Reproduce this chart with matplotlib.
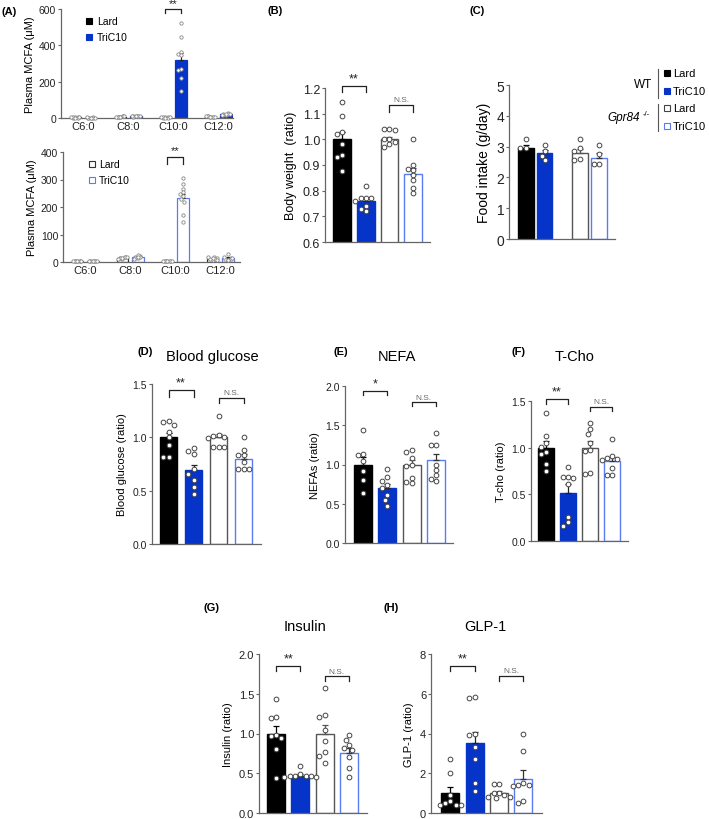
import matplotlib
matplotlib.use("Agg")
import matplotlib.pyplot as plt
import numpy as np

plt.rcParams['font.family'] = ['Liberation Sans', 'DejaVu Sans']

W, H = 709, 820

BLACK = '#000000'
BLUE = '#0633c8'
LBLUE = '#5a7cf2'
GREY = '#555555'
SPINE = '#666666'

# ---------------- data ----------------
mcfa_cats = ['C6:0', 'C8:0', 'C10:0', 'C12:0']
# panel A top (WT)
wt_lard_mean = [3, 8, 3, 8]
wt_tric_mean = [2, 10, 320, 20]
wt_lard_sem = [1, 2, 1, 2]
wt_tric_sem = [1, 2, 40, 3]
wt_lard_pts = [[3, 2, 4, 3, 2, 3, 4, 2], [6, 8, 10, 7, 9, 8, 11, 6], [3, 2, 4, 3, 2, 4, 3, 2], [6, 9, 8, 11, 7, 9, 6, 8]]
wt_tric_pts = [[2, 1, 3, 2, 2, 3, 1, 2], [9, 12, 10, 8, 13, 11, 9, 10], [521, 448, 362, 353, 345, 270, 265, 219, 146], [17, 22, 25, 19, 21, 18, 23, 20]]
# panel A bottom (Gpr84-/-)
ko_lard_mean = [3, 15, 3, 12]
ko_tric_mean = [3, 17, 232, 14]
ko_lard_sem = [1, 2, 1, 2]
ko_tric_sem = [1, 2, 17, 3]
ko_lard_pts = [[3, 2, 4, 3, 2, 3, 4, 3], [12, 16, 20, 14, 18, 10, 17, 13], [3, 4, 2, 3, 4, 2, 3, 4], [8, 12, 18, 14, 10, 20, 9, 13]]
ko_tric_pts = [[3, 4, 2, 5, 3, 2, 4, 3], [14, 18, 22, 16, 20, 12, 25, 17], [304, 283, 265, 253, 247, 239, 229, 220, 171, 147], [8, 12, 28, 16, 10, 20, 14, 6]]

groups = ['WT Lard', 'WT TriC10', 'Gpr84-/- Lard', 'Gpr84-/- TriC10']

bw_mean = [1.0, 0.76, 1.0, 0.865]
bw_sem = [0.03, 0.012, 0.01, 0.025]
bw_pts = [[1.145, 1.09, 1.03, 1.02, 0.98, 0.94, 0.93, 0.878],
          [0.82, 0.77, 0.77, 0.77, 0.76, 0.74, 0.73, 0.72],
          [1.04, 1.04, 1.035, 1.0, 1.0, 0.99, 0.98, 0.97],
          [1.0, 0.9, 0.885, 0.88, 0.86, 0.84, 0.81, 0.79]]

food_mean = [2.95, 2.8, 2.8, 2.63]
food_sem = [0.1, 0.1, 0.13, 0.15]
food_pts = [[3.25, 2.95, 2.95],
            [3.05, 2.85, 2.7, 2.55],
            [3.25, 2.95, 2.85, 2.6, 2.55],
            [3.05, 2.75, 2.45, 2.45]]

glu_mean = [1.0, 0.69, 1.0, 0.80]
glu_sem = [0.045, 0.055, 0.03, 0.04]
glu_pts = [[1.15, 1.14, 1.12, 1.05, 1.0, 0.93, 0.82, 0.82],
           [0.9, 0.87, 0.84, 0.70, 0.66, 0.60, 0.53, 0.47],
           [1.2, 1.02, 1.01, 1.0, 0.99, 0.91, 0.91, 0.91],
           [1.0, 0.88, 0.83, 0.83, 0.77, 0.70, 0.70, 0.70]]

nefa_mean = [1.0, 0.70, 1.0, 1.06]
nefa_sem = [0.09, 0.055, 0.055, 0.08]
nefa_pts = [[1.44, 1.13, 1.12, 1.05, 0.92, 0.80, 0.64],
            [0.94, 0.84, 0.79, 0.74, 0.70, 0.61, 0.55, 0.47],
            [1.19, 1.16, 1.08, 1.0, 0.98, 0.83, 0.78, 0.76],
            [1.40, 1.25, 1.25, 1.0, 0.93, 0.86, 0.82, 0.79]]

tcho_mean = [1.0, 0.51, 1.0, 0.86]
tcho_sem = [0.07, 0.1, 0.07, 0.04]
tcho_pts = [[1.37, 1.13, 1.05, 1.01, 0.95, 0.93, 0.82, 0.75],
            [0.79, 0.69, 0.69, 0.67, 0.61, 0.26, 0.20, 0.16],
            [1.26, 1.20, 1.15, 1.05, 0.97, 0.96, 0.73, 0.72],
            [1.09, 0.91, 0.89, 0.88, 0.87, 0.78, 0.71, 0.71]]

ins_mean = [1.0, 0.47, 1.0, 0.75]
ins_sem = [0.1, 0.015, 0.11, 0.07]
ins_pts = [[1.43, 1.21, 1.19, 0.98, 0.97, 0.94, 0.80, 0.44],
           [0.59, 0.49, 0.47, 0.46, 0.46, 0.46, 0.45, 0.45],
           [1.57, 1.23, 1.21, 1.05, 0.90, 0.77, 0.72, 0.63],
           [0.98, 0.92, 0.85, 0.82, 0.79, 0.70, 0.57, 0.45]]

glp_mean = [1.0, 3.5, 1.0, 1.7]
glp_sem = [0.3, 0.6, 0.1, 0.45]
glp_pts = [[2.7, 2.0, 0.9, 0.6, 0.5, 0.4, 0.4, 0.4],
           [5.85, 5.8, 4.0, 3.9, 3.3, 2.7, 1.5, 1.1],
           [1.45, 1.45, 1.0, 1.0, 0.9, 0.8, 0.8, 0.75],
           [4.0, 3.1, 1.5, 1.4, 1.4, 1.35, 0.6, 0.5]]

fig = plt.figure(figsize=(W / 100, H / 100), dpi=100)


def box(l, t, r, b):
    return fig.add_axes([l / W, 1 - b / H, (r - l) / W, (b - t) / H])


def swarm(vals, px_per_unit, dx, diam=5.0, kmax=7):
    dy = diam / px_per_unit
    placed = []
    xs = []
    cand = [0] + [s * k for k in range(1, kmax + 1) for s in (-1, 1)]
    for n, v in enumerate(vals):
        x = None
        for c in cand:
            xc = c * dx * 0.5
            if all(((xc - px) / dx) ** 2 + ((v - py) / dy) ** 2 >= 1 for px, py in placed):
                x = xc
                break
        if x is None:
            x = cand[n % len(cand)] * dx * 0.5
        placed.append((x, v))
        xs.append(x)
    return np.array(xs)


def style(ax, ylim, yticks, fmt, fs):
    ax.set_ylim(*ylim)
    ax.set_yticks(yticks)
    ax.set_yticklabels([fmt.format(v) for v in yticks], fontsize=fs, color='#222')
    for s in ['top', 'right']:
        ax.spines[s].set_visible(False)
    for s in ['left', 'bottom']:
        ax.spines[s].set_color(SPINE)
        ax.spines[s].set_linewidth(0.9)
    ax.tick_params(axis='y', length=2.5, width=0.8, color=SPINE, pad=1)
    ax.tick_params(axis='x', length=0)
    ax.set_facecolor('none')


def bracket(ax, x1, x2, y, drop, label, fs, color='#222'):
    ax.plot([x1, x1, x2, x2], [y - drop, y, y, y - drop], color='#222', lw=0.9, clip_on=False)
    ax.text((x1 + x2) / 2, y + drop * 0.3, label, ha='center', va='bottom',
            fontsize=fs, color=color, clip_on=False)


faces = [BLACK, BLUE, 'white', 'white']
edges = [BLACK, BLUE, GREY, LBLUE]
ecols = [BLACK, '#222', GREY, '#333']


def ratio_panel(box_px, pos, xlim, width, means, sems, pts, ylim, yticks, fmt, ylabel,
                fs_tick, fs_lab, brk):
    ax = box(*box_px)
    style(ax, ylim, yticks, fmt, fs_tick)
    ax.set_xlim(*xlim)
    ax.set_xticks([])
    ppu = (box_px[3] - box_px[1]) / (ylim[1] - ylim[0])
    for i in range(4):
        ax.bar(pos[i], means[i], width, color=faces[i], edgecolor=edges[i], lw=1.0, zorder=2)
        ax.errorbar(pos[i], means[i], yerr=[[0], [sems[i]]], color=ecols[i], capsize=2,
                    elinewidth=0.9, capthick=0.9, zorder=3)
        xs = swarm(pts[i], ppu, 0.22)
        ax.plot(pos[i] + xs, pts[i], 'o', ms=3.4, mfc='white', mec='#444', mew=0.7,
                zorder=4, clip_on=False)
    ax.set_ylabel(ylabel, fontsize=fs_lab, labelpad=4)
    (y1, d1, l1), (y2, d2) = brk
    bracket(ax, pos[0], pos[1], y1, d1, l1, 9)
    bracket(ax, pos[2], pos[3], y2, d2, 'N.S.', 6, '#666')
    return ax


# ---------------- panel A ----------------
def mcfa_panel(box_px, xlim, lard_m, lard_s, lard_p, tric_m, tric_s, tric_p, ylim, yticks,
               lard_style, tric_style, brk_y, brk_d):
    ax = box(*box_px)
    style(ax, ylim, yticks, '{:d}', 7.5)
    ax.set_xlim(*xlim)
    x = np.arange(len(mcfa_cats))
    ax.set_xticks(x)
    ax.set_xticklabels(mcfa_cats, fontsize=8, color='#222')
    ax.tick_params(axis='x', pad=2)
    ppu = (box_px[3] - box_px[1]) / (ylim[1] - ylim[0])
    off, w = 0.17, 0.26
    for (m, s, p, st, sgn) in [(lard_m, lard_s, lard_p, lard_style, -1),
                               (tric_m, tric_s, tric_p, tric_style, 1)]:
        ax.bar(x + sgn * off, m, w, color=st[0], edgecolor=st[1], lw=0.9, zorder=2)
        for i in range(len(x)):
            ax.errorbar(x[i] + sgn * off, m[i], yerr=[[0], [s[i]]], color='#222', capsize=1.5,
                        elinewidth=0.8, capthick=0.8, zorder=3)
            xs = swarm(p[i], ppu, 0.06, 3.0, kmax=3)
            ax.plot(x[i] + sgn * off + xs, p[i], 'o', ms=2.4, mfc='white', mec='#888',
                    mew=0.6, zorder=4, clip_on=False)
    ax.set_ylabel('Plasma MCFA (μM)', fontsize=8, labelpad=3)
    bracket(ax, 2 - off, 2 + off, brk_y, brk_d, '**', 8)
    hl = plt.Line2D([], [], marker='s', ls='none', ms=5, mfc=lard_style[0], mec=lard_style[1], mew=0.8)
    ht = plt.Line2D([], [], marker='s', ls='none', ms=5, mfc=tric_style[0], mec=tric_style[1], mew=0.8)
    ax.legend([hl, ht], ['Lard', 'TriC10'], loc='upper left', bbox_to_anchor=(0.08, 1.02),
              frameon=False, fontsize=7.5, handletextpad=0.2, labelspacing=0.6, handlelength=1)
    return ax


mcfa_panel((61, 10, 233, 119), (-0.49, 3.33), wt_lard_mean, wt_lard_sem, wt_lard_pts,
           wt_tric_mean, wt_tric_sem, wt_tric_pts, (0, 600), [0, 200, 400, 600],
           (BLACK, BLACK), (BLUE, BLUE), 600, 22)
mcfa_panel((63, 153, 240, 263), (-0.49, 3.44), ko_lard_mean, ko_lard_sem, ko_lard_pts,
           ko_tric_mean, ko_tric_sem, ko_tric_pts, (0, 400), [0, 100, 200, 300, 400],
           ('white', '#333'), ('white', LBLUE), 382, 24)

# ---------------- panel B ----------------
pos4 = [0, 1, 2, 3]
axb = ratio_panel((325, 89, 430, 243), pos4, (-0.72, 3.71), 0.74, bw_mean, bw_sem, bw_pts,
                  (0.6, 1.2), [0.6, 0.7, 0.8, 0.9, 1.0, 1.1, 1.2], '{:.1f}', 'Body weight  (ratio)',
                  9, 9, ((1.208, 0.024, '**'), (1.132, 0.026)))

# ---------------- panel C ----------------
axc = box(509, 86, 615, 240)
style(axc, (0, 5), [0, 1, 2, 3, 4, 5], '{:d}', 10)
posc = [0, 1, 2.9, 3.95]
axc.set_xlim(-0.92, 4.81)
axc.set_xticks([])
ppu_c = 154 / 5
for i in range(4):
    axc.bar(posc[i], food_mean[i], 0.86, color=faces[i], edgecolor=edges[i], lw=1.0, zorder=2)
    axc.errorbar(posc[i], food_mean[i], yerr=[[0], [food_sem[i]]], color=ecols[i], capsize=2,
                 elinewidth=0.9, capthick=0.9, zorder=3)
    xs = swarm(food_pts[i], ppu_c, 0.3)
    axc.plot(posc[i] + xs, food_pts[i], 'o', ms=3.4, mfc='white', mec='#444', mew=0.7, zorder=4)
axc.set_ylabel('Food intake (g/day)', fontsize=10, labelpad=4)

# ---------------- row 2 & 3 ----------------
ratio_panel((152, 385, 261, 545), pos4, (-0.66, 3.7), 0.7, glu_mean, glu_sem, glu_pts,
            (0, 1.5), [0.0, 0.5, 1.0, 1.5], '{:.1f}', 'Blood glucose (ratio)', 7.5, 8,
            ((1.44, 0.06, '**'), (1.37, 0.05)))
ratio_panel((345, 387, 453, 544), pos4, (-0.74, 3.7), 0.74, nefa_mean, nefa_sem, nefa_pts,
            (0, 2.0), [0.0, 0.5, 1.0, 1.5, 2.0], '{:.1f}', 'NEFAs (ratio)', 7.5, 8,
            ((1.94, 0.05, '*'), (1.79, 0.05)))
ratio_panel((531, 402, 628, 542), pos4, (-0.68, 3.73), 0.73, tcho_mean, tcho_sem, tcho_pts,
            (0, 1.5), [0.0, 0.5, 1.0, 1.5], '{:.1f}', 'T-cho (ratio)', 7.5, 8,
            ((1.52, 0.05, '**'), (1.44, 0.05)))
ratio_panel((259, 655, 367, 814), pos4, (-0.7, 3.74), 0.74, ins_mean, ins_sem, ins_pts,
            (0, 2.0), [0.0, 0.5, 1.0, 1.5, 2.0], '{:.1f}', 'Insulin (ratio)', 8, 8,
            ((1.85, 0.06, '**'), (1.72, 0.06)))
ratio_panel((431, 655, 542, 814), pos4, (-0.8, 3.77), 0.74, glp_mean, glp_sem, glp_pts,
            (0, 8), [0, 2, 4, 6, 8], '{:d}', 'GLP-1 (ratio)', 8, 8,
            ((7.4, 0.25, '**'), (6.9, 0.25)))

# ---------------- overlay text ----------------
ov = fig.add_axes([0, 0, 1, 1])
ov.set_xlim(0, W)
ov.set_ylim(H, 0)
ov.axis('off')

for lab, x, y in [('(A)', 2, 12), ('(B)', 268, 11), ('(C)', 470, 11), ('(D)', 138, 352),
                  ('(E)', 334, 352), ('(F)', 511, 352), ('(G)', 204, 608), ('(H)', 384, 608)]:
    ov.text(x, y, lab, fontsize=8, fontweight='bold', va='center', ha='left')

for t, x, y in [('Blood glucose', 212, 357), ('NEFA', 397, 357), ('T-Cho', 575, 357),
                ('Insulin', 305, 627), ('GLP-1', 485, 627)]:
    ov.text(x, y, t, fontsize=10.5, ha='center', va='center')

# legend for C
ov.text(652, 85, 'WT', fontsize=8.5, ha='right', va='center')
ov.plot([658, 658], [70, 99], color='#555', lw=0.8)
ov.plot([658, 658], [105, 132], color='#555', lw=0.8)
ov.text(640, 118, 'Gpr84', fontsize=8.5, ha='right', va='center', style='italic')
ov.text(643, 115, '-/-', fontsize=5.5, ha='left', va='center')
for y, fc, ec, lab in [(74, BLACK, BLACK, 'Lard'), (92, BLUE, BLUE, 'TriC10'),
                       (109, 'white', '#444', 'Lard'), (127, 'white', LBLUE, 'TriC10')]:
    ov.plot([667], [y], marker='s', ms=5, mfc=fc, mec=ec, mew=0.8, ls='none')
    ov.text(673, y, lab, fontsize=8, ha='left', va='center')

plt.savefig('out.png', dpi=100)
